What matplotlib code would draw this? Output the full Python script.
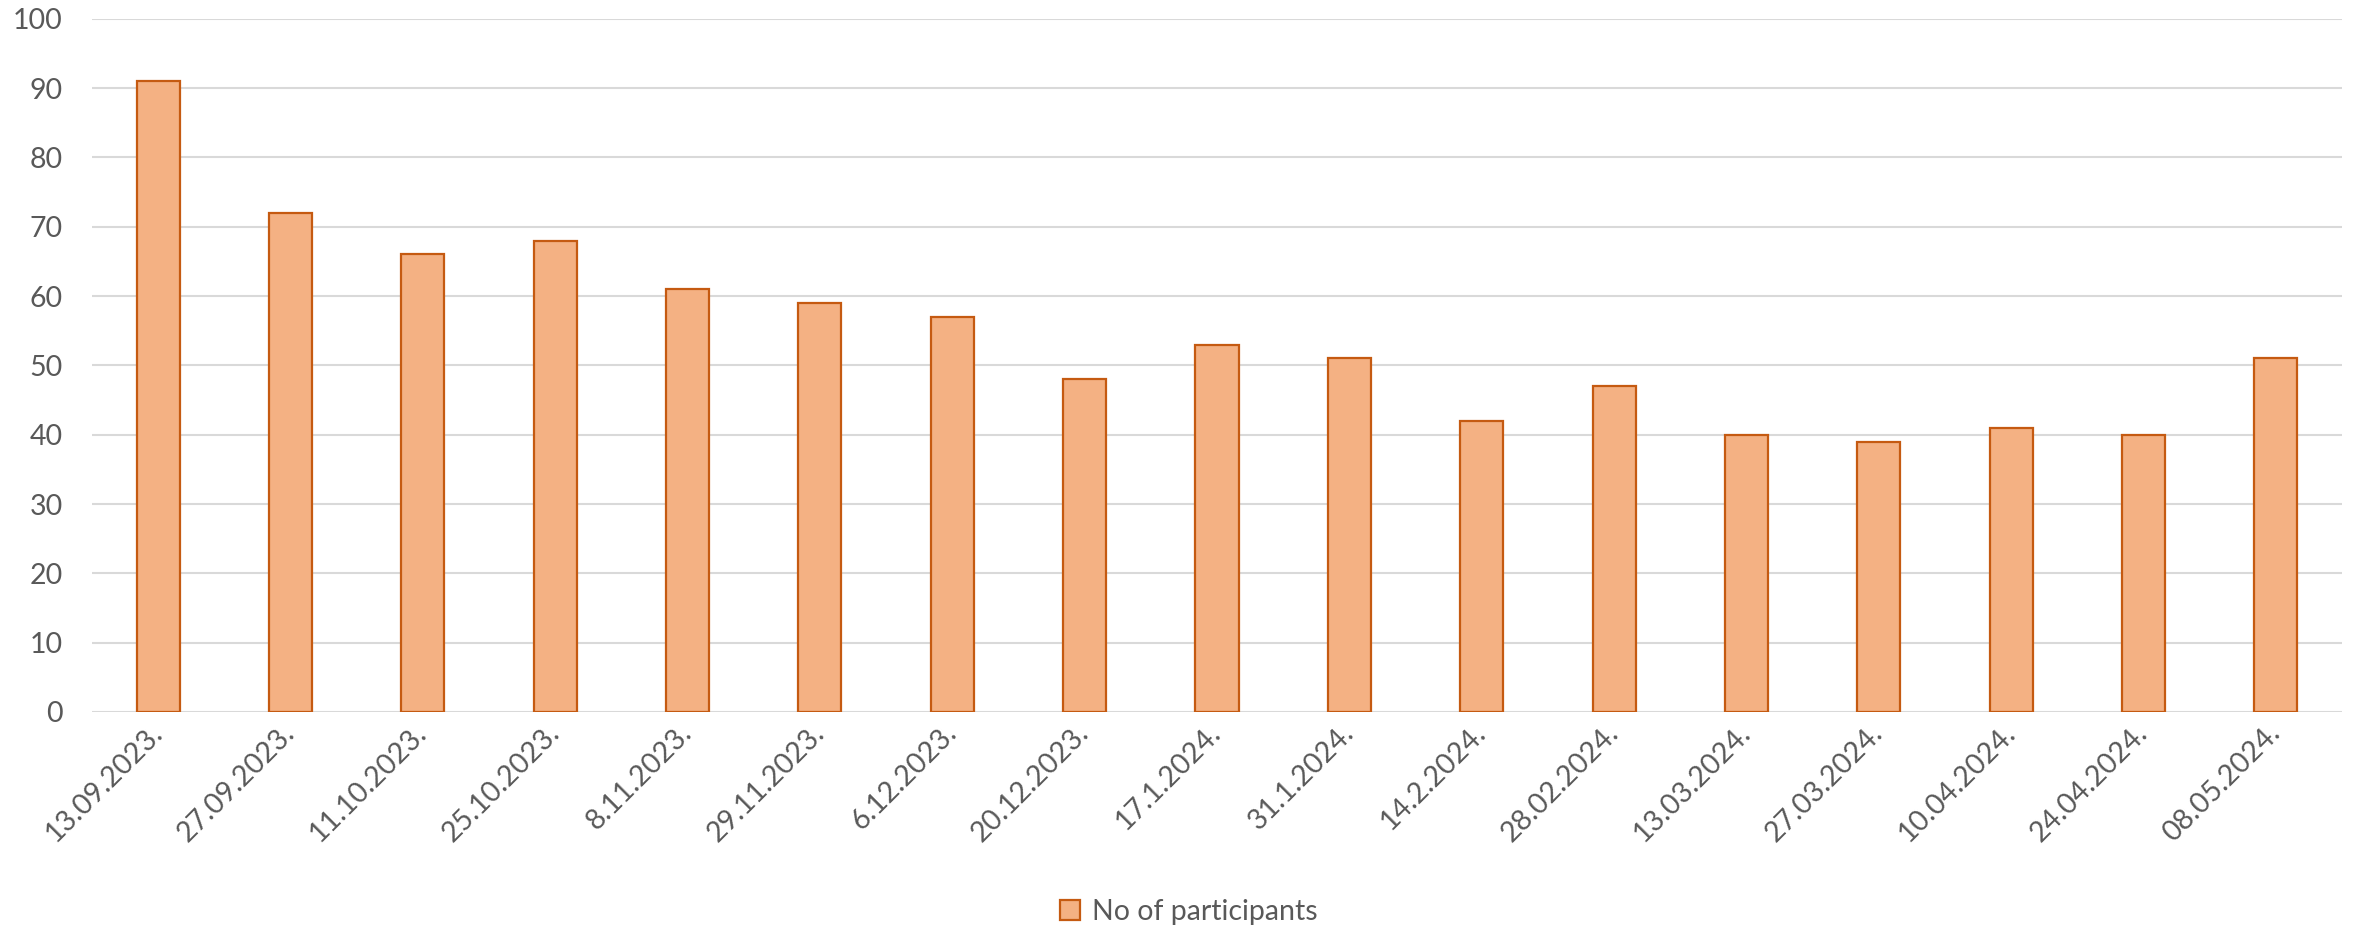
import matplotlib
matplotlib.use("Agg")
import matplotlib.pyplot as plt
from matplotlib.patches import Patch

dates = ["13.09.2023.", "27.09.2023.", "11.10.2023.", "25.10.2023.", "8.11.2023.",
         "29.11.2023.", "6.12.2023.", "20.12.2023.", "17.1.2024.", "31.1.2024.",
         "14.2.2024.", "28.02.2024.", "13.03.2024.", "27.03.2024.", "10.04.2024.",
         "24.04.2024.", "08.05.2024."]
participants = [91, 72, 66, 68, 61, 59, 57, 48, 53, 51, 42, 47, 40, 39, 41, 40, 51]
yticks = [0, 10, 20, 30, 40, 50, 60, 70, 80, 90, 100]
series_name = "No of participants"

plt.rcParams['font.family'] = ['Lato', 'DejaVu Sans']
TEXT = "#595959"
FILL = "#F4B183"
EDGE = "#C55A11"
GRID = "#D9D9D9"

W, H = 2359, 933
fig = plt.figure(figsize=(W / 100, H / 100), dpi=100)
ax = fig.add_axes([92 / W, 1 - 712 / H, (2342 - 92) / W, (712 - 18.7) / H])

x = list(range(len(dates)))
ax.bar(x, participants, width=0.325, color=FILL, edgecolor=EDGE, linewidth=1.6, zorder=3)

ax.set_xlim(-0.5, len(dates) - 0.5)
ax.set_ylim(0, 100)
ax.set_yticks(yticks)
ax.set_yticklabels([str(v) for v in yticks], fontsize=20.5, color=TEXT)
ax.yaxis.grid(True, color=GRID, linewidth=1.5, zorder=0)
ax.set_axisbelow(True)
for s in ax.spines.values():
    s.set_visible(False)
ax.tick_params(axis='y', length=0, pad=21)
ax.tick_params(axis='x', length=0, pad=12)

ax.set_xticks(x)
ax.set_xticklabels(dates, rotation=45, ha='right', va='center',
                   rotation_mode='anchor', fontsize=20.5, color=TEXT)

handle = Patch(facecolor=FILL, edgecolor=EDGE, linewidth=1.6, label=series_name)
fig.legend(handles=[handle], loc='center', bbox_to_anchor=(0.504, 1 - 912 / H),
           frameon=False, fontsize=20.5, labelcolor=TEXT, handlelength=0.7,
           handleheight=0.7, handletextpad=0.4)

fig.savefig("out.png", dpi=100, facecolor="white")
